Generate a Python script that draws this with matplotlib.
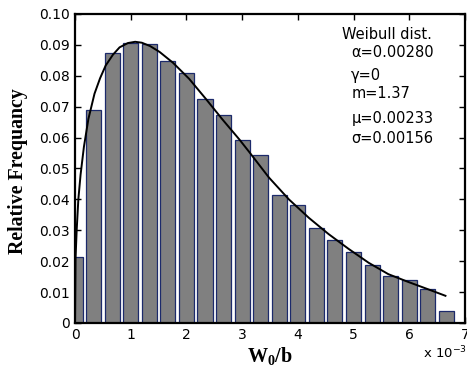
import numpy as np
import matplotlib
matplotlib.use('Agg')
import matplotlib.pyplot as plt

# histogram of W0/b (x in units of 1e-3)
bin_centers = [0, 1/3, 2/3, 1, 4/3, 5/3, 2, 7/3, 8/3, 3, 10/3, 11/3,
               4, 13/3, 14/3, 5, 16/3, 17/3, 6, 19/3, 20/3]
rel_freq = [0.0213, 0.0688, 0.0873, 0.0907, 0.0902, 0.0849, 0.0810, 0.0724,
            0.0673, 0.0592, 0.0543, 0.0415, 0.0382, 0.0307, 0.0269, 0.0231,
            0.0189, 0.0152, 0.0140, 0.0109, 0.0040]

# fitted Weibull curve
curve_x = [0, 0.01, 0.03, 0.06, 0.1, 0.16, 0.24, 0.35, 0.45, 0.55, 0.68,
           0.8, 0.95, 1.08, 1.2, 1.35, 1.52, 1.76, 2.05, 2.35, 2.65, 2.95,
           3.125, 3.48, 3.84, 4.2, 4.55, 4.91, 5.27, 5.625, 5.98, 6.34, 6.65]
curve_y = [0, 0.021, 0.030, 0.040, 0.048, 0.057, 0.066, 0.0742, 0.0792,
           0.0833, 0.0868, 0.0892, 0.0906, 0.0910, 0.0907, 0.0896, 0.0877,
           0.0842, 0.0790, 0.0725, 0.0658, 0.0594, 0.0554, 0.0471, 0.0400,
           0.0340, 0.0288, 0.0240, 0.0195, 0.0158, 0.0133, 0.0109, 0.0088]

info_lines = ['Weibull dist.', '\u03b1=0.00280', '\u03b3=0', 'm=1.37',
              '\u03bc=0.00233', '\u03c3=0.00156']
info_x = [4.8, 4.96, 4.96, 4.96, 4.96, 4.96]
info_y = [0.0918, 0.0860, 0.0786, 0.0729, 0.0647, 0.0583]

plt.rcParams['font.family'] = ['DejaVu Sans']
plt.rcParams['mathtext.fontset'] = 'custom'
plt.rcParams['mathtext.rm'] = 'Liberation Serif'
plt.rcParams['mathtext.bf'] = 'Liberation Serif:bold'

fig = plt.figure(figsize=(4.67, 3.69), dpi=100)
ax = fig.add_axes([0.1606, 0.1247, 0.835, 0.8374])

ax.bar(bin_centers, rel_freq, width=0.27, color='#808080',
       edgecolor='#1c2a6b', linewidth=0.9, zorder=2)
ax.plot(curve_x, curve_y, color='black', lw=1.4, zorder=3)

ax.set_xlim(0, 7)
ax.set_ylim(0, 0.1)
ax.set_xticks(range(8))
ax.set_yticks(np.arange(0, 0.101, 0.01))
ax.set_yticklabels(['0'] + ['%.2f' % v for v in np.arange(0.01, 0.101, 0.01)])
ax.tick_params(direction='in', top=True, right=True, length=4, width=1,
               labelsize=10, pad=3.5)
for s in ax.spines.values():
    s.set_linewidth(1.6)

ax.set_ylabel('Relative Frequancy', family='Liberation Serif',
              fontweight='bold', fontsize=14.3)
ax.yaxis.set_label_coords(-0.121, 0.49)
ax.set_xlabel(r'$\mathbf{W_0/b}$', fontsize=14.5, labelpad=2)
fig.text(0.905, 0.03, 'x 10$^{-3}$', fontsize=9.5, ha='left',
         math_fontfamily='dejavusans')

for t, xx, yy in zip(info_lines, info_x, info_y):
    ax.text(xx, yy, t, fontsize=10.5, va='baseline', ha='left')

fig.savefig('out.png', dpi=100)
